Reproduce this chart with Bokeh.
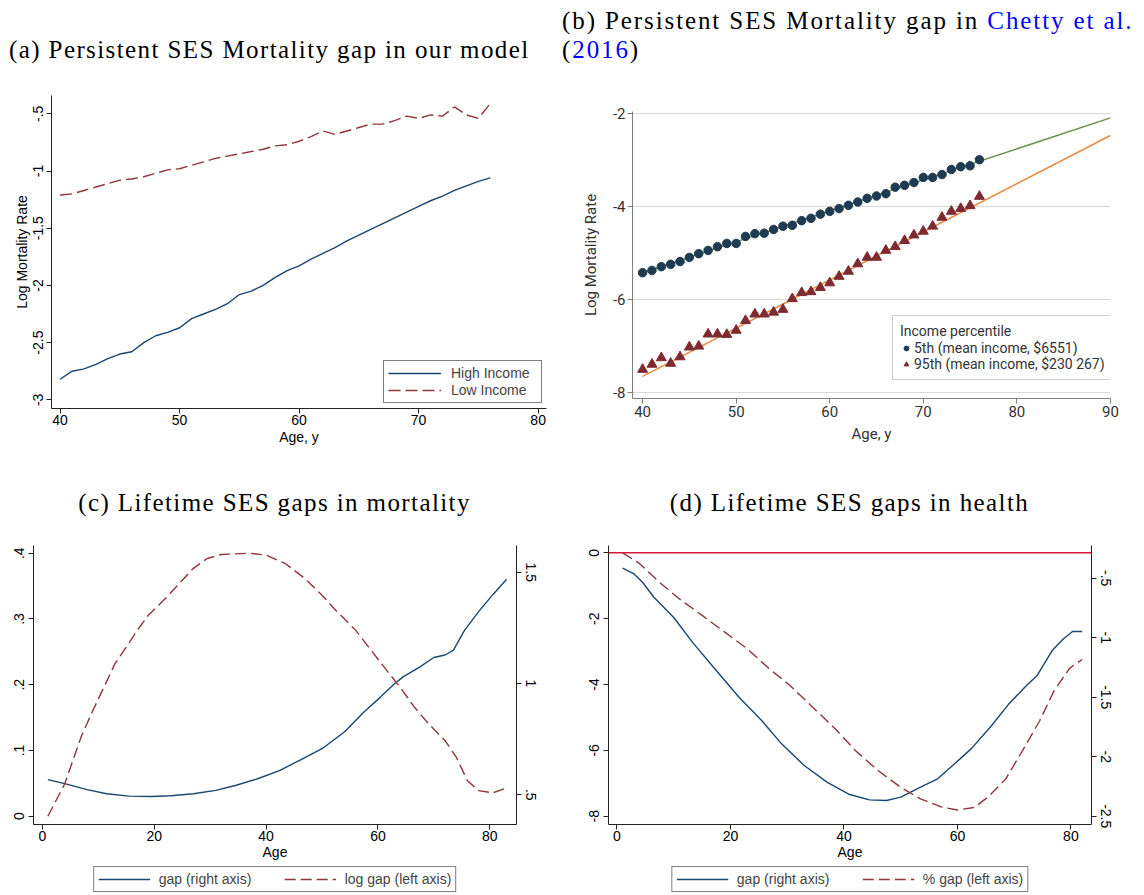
from bokeh.plotting import figure
from bokeh.models import (Range1d, LinearAxis, FixedTicker, Legend, LegendItem,
                          Div, Span)
from bokeh.layouts import column, row
from bokeh.embed import file_html
from bokeh.resources import INLINE

# ---------------- data ----------------
# (a) model: log mortality by age
ages_a = list(range(40, 77))
high_income = [-2.82, -2.75, -2.73, -2.69, -2.64, -2.60, -2.58, -2.50, -2.44, -2.41,
               -2.37, -2.29, -2.25, -2.21, -2.16, -2.08, -2.05, -2.00, -1.93, -1.87,
               -1.83, -1.77, -1.72, -1.67, -1.61, -1.56, -1.51, -1.46, -1.41, -1.36,
               -1.31, -1.26, -1.22, -1.17, -1.13, -1.09, -1.06]
low_income = [-1.21, -1.20, -1.17, -1.14, -1.11, -1.08, -1.07, -1.05, -1.02, -0.99,
              -0.98, -0.95, -0.92, -0.89, -0.87, -0.85, -0.83, -0.81, -0.78, -0.77,
              -0.74, -0.70, -0.65, -0.68, -0.65, -0.62, -0.59, -0.59, -0.56, -0.52,
              -0.54, -0.51, -0.52, -0.44, -0.51, -0.54, -0.41]

# (b) Chetty et al. (2016): log mortality by income percentile
ages_b = list(range(40, 77))
pct5 = [-5.43, -5.38, -5.30, -5.25, -5.19, -5.10, -5.02, -4.95, -4.87, -4.80,
        -4.80, -4.65, -4.59, -4.58, -4.50, -4.43, -4.41, -4.31, -4.26, -4.17,
        -4.11, -4.05, -3.98, -3.91, -3.83, -3.78, -3.73, -3.59, -3.55, -3.49,
        -3.38, -3.38, -3.32, -3.21, -3.15, -3.13, -3.00]
pct95 = [-7.51, -7.40, -7.26, -7.38, -7.24, -7.03, -7.01, -6.75, -6.75, -6.76,
         -6.67, -6.46, -6.32, -6.32, -6.28, -6.22, -5.99, -5.86, -5.84, -5.75,
         -5.65, -5.51, -5.40, -5.24, -5.10, -5.10, -4.95, -4.87, -4.74, -4.62,
         -4.54, -4.43, -4.24, -4.11, -4.05, -3.99, -3.79]
fit_ages = [40, 90]
fit5 = [-5.43, -2.10]
fit95 = [-7.66, -2.48]

# (c) lifetime gaps in mortality
ages_c_log = [1, 4, 7, 9, 11, 13, 15, 17, 19, 22, 24.5, 27, 29.5, 32, 37, 40, 43.5,
              47, 50, 52.5, 56, 59, 62, 64, 66.5, 69, 72, 74, 76, 78, 80.5, 83]
log_gap = [0.0, 0.049, 0.122, 0.16, 0.196, 0.232, 0.257, 0.283, 0.306, 0.331, 0.354,
           0.377, 0.392, 0.398, 0.400, 0.397, 0.384, 0.361, 0.336, 0.313, 0.283, 0.250,
           0.217, 0.196, 0.166, 0.141, 0.115, 0.090, 0.054, 0.039, 0.0355, 0.043]
ages_c_gap = [1, 4, 8, 11.5, 15.5, 19.5, 23, 27, 31, 34.5, 38.5, 42.5, 46, 50, 54,
              57.5, 60.5, 63, 64.5, 67.5, 70, 72, 73.5, 75.5, 78, 80.5, 83]
gap_c = [0.568, 0.55, 0.523, 0.505, 0.494, 0.4925, 0.4955, 0.5045, 0.52, 0.542, 0.572,
         0.61, 0.655, 0.707, 0.782, 0.872, 0.94, 1.0, 1.03, 1.075, 1.117, 1.128, 1.15,
         1.24, 1.323, 1.398, 1.468]

# (d) lifetime gaps in health
ages_d_pct = [1, 4, 7.5, 11, 15, 19, 23, 26.5, 30.5, 34.5, 38.5, 42, 46, 50, 53.5, 57,
              60, 63, 65.5, 68.5, 71.5, 74.5, 77, 79.8, 82]
pct_gap = [0.0, -0.33, -0.9, -1.40, -1.90, -2.41, -2.92, -3.47, -4.03, -4.69, -5.35,
           -6.0, -6.61, -7.12, -7.47, -7.71, -7.81, -7.73, -7.4, -6.87, -6.0, -5.1,
           -4.2, -3.5, -3.24]
ages_d_gap = [1, 3, 4.5, 6.5, 10, 13.5, 17.5, 21.5, 25.5, 29, 33, 37, 41, 44.5, 47.5,
              50, 53.5, 56.5, 59.5, 62.5, 66, 69, 72, 74, 76.7, 78.7, 80.3, 82]
gap_d = [-0.416, -0.464, -0.534, -0.66, -0.83, -1.05, -1.276, -1.50, -1.696, -1.892,
         -2.074, -2.214, -2.318, -2.363, -2.368, -2.34, -2.256, -2.186, -2.06, -1.93,
         -1.74, -1.56, -1.41, -1.32, -1.108, -1.009, -0.948, -0.948]
zero_line = 0

# ---------------- styling helpers ----------------
NAVY = "#1a476f"
MAROON = "#90353b"
SANS = "Liberation Sans"
DASH = "11 5"


def stata_axis(ax, standoff=4, label_standoff=1):
    ax.axis_line_color = "#222222"
    ax.major_tick_line_color = "#222222"
    ax.major_tick_out = 5
    ax.major_tick_in = 0
    ax.minor_tick_line_color = None
    ax.major_label_standoff = standoff
    ax.major_label_text_font = SANS
    ax.major_label_text_font_size = "14px"
    ax.major_label_text_color = "#000000"
    ax.axis_label_text_font = SANS
    ax.axis_label_text_font_size = "14px"
    ax.axis_label_text_font_style = "normal"
    ax.axis_label_text_color = "#000000"
    ax.axis_label_standoff = label_standoff


def ticks(ax, vals, labels):
    ax.ticker = FixedTicker(ticks=vals)
    ax.major_label_overrides = dict(zip(vals, labels))


def base_fig(fw, fh, left, right, top, bottom, xr, yr, **kw):
    p = figure(frame_width=fw, frame_height=fh, min_border_left=left,
               min_border_right=right, min_border_top=top, min_border_bottom=bottom,
               x_range=Range1d(*xr), y_range=Range1d(*yr),
               output_backend="svg", toolbar_location=None, **kw)
    p.outline_line_color = None
    p.xgrid.visible = False
    p.ygrid.visible = False
    p.background_fill_color = "white"
    p.border_fill_color = "white"
    return p


# ---------------- (a) ----------------
pa = base_fig(495, 313, 51, 16, 25, 47, (39.28, 80.70), (-3.076, -0.34))
ra_hi = pa.line(ages_a, high_income, line_color=NAVY, line_width=1.4)
ra_lo = pa.line(ages_a, low_income, line_color=MAROON, line_width=1.4, line_dash="12 5")
stata_axis(pa.xaxis[0], standoff=1, label_standoff=1)
stata_axis(pa.yaxis[0], standoff=3, label_standoff=1)
pa.xaxis[0].axis_label = "Age, y"
pa.yaxis[0].axis_label = "Log Mortality Rate"
pa.yaxis[0].major_label_orientation = "vertical"
ticks(pa.xaxis[0], [40, 50, 60, 70, 80], ["40", "50", "60", "70", "80"])
ticks(pa.yaxis[0], [-3, -2.5, -2, -1.5, -1, -0.5], ["-3", "-2.5", "-2", "-1.5", "-1", "-.5"])
leg_a = Legend(items=[LegendItem(label="High Income", renderers=[ra_hi]),
                      LegendItem(label="Low Income", renderers=[ra_lo])],
               location=(332, 5), orientation="vertical")
leg_a.border_line_color = "#000000"
leg_a.border_line_width = 1
leg_a.background_fill_alpha = 1
leg_a.label_text_font = SANS
leg_a.label_text_font_size = "14px"
leg_a.glyph_width = 53
leg_a.glyph_height = 16
leg_a.label_height = 16
leg_a.label_width = 86
leg_a.label_standoff = 10
leg_a.spacing = 1
leg_a.padding = 4
leg_a.margin = 0
pa.add_layout(leg_a)

# ---------------- (b) ----------------
CH_FONT = "Roboto"
CH_TEXT = "#333333"
pb = base_fig(478, 287, 70, 32, 25, 47, (38.92, 90.01), (-8.135, -1.963))
pb.line(fit_ages, fit5, line_color="#6e8f48", line_width=1.5)
pb.line(fit_ages, fit95, line_color="#ec8a3e", line_width=1.5)
rb5 = pb.scatter(ages_b, pct5, marker="circle", size=8.5, fill_color="#1f3b52",
                 line_color="#1f3b52")
rb95 = pb.scatter(ages_b, pct95, marker="triangle", size=10, fill_color="#7e2a30",
                  line_color="#7e2a30")
for ax in (pb.xaxis[0], pb.yaxis[0]):
    ax.axis_line_color = "#808080"
    ax.major_tick_line_color = "#808080"
    ax.major_tick_out = 5
    ax.major_tick_in = 0
    ax.minor_tick_line_color = None
    ax.major_label_text_font = CH_FONT
    ax.major_label_text_font_size = "15px"
    ax.major_label_text_color = CH_TEXT
    ax.axis_label_text_font = CH_FONT
    ax.axis_label_text_font_size = "15px"
    ax.axis_label_text_font_style = "normal"
    ax.axis_label_text_color = CH_TEXT
pb.xaxis[0].axis_label = "Age, y"
pb.yaxis[0].axis_label = "Log Mortality Rate"
pb.xaxis[0].major_label_standoff = 2
pb.xaxis[0].axis_label_standoff = 5
pb.yaxis[0].major_label_standoff = 2
pb.yaxis[0].axis_label_standoff = 10
ticks(pb.xaxis[0], [40, 50, 60, 70, 80, 90], ["40", "50", "60", "70", "80", "90"])
ticks(pb.yaxis[0], [-8, -6, -4, -2], ["-8", "-6", "-4", "-2"])
pb.ygrid.visible = True
pb.ygrid[0].ticker = FixedTicker(ticks=[-8, -6, -4, -2])
pb.ygrid[0].grid_line_color = "#d9d9d9"
leg_b = Legend(items=[LegendItem(label="5th (mean income, $6551)", renderers=[rb5]),
                      LegendItem(label="95th (mean income, $230 267)", renderers=[rb95])],
               location=(260, 18), orientation="vertical", title="Income percentile")
leg_b.border_line_color = "#9a9a9a"
leg_b.background_fill_alpha = 1
leg_b.title_text_font = CH_FONT
leg_b.title_text_font_style = "normal"
leg_b.title_text_font_size = "14px"
leg_b.title_text_color = CH_TEXT
leg_b.title_standoff = 1
leg_b.label_text_font = CH_FONT
leg_b.label_text_font_size = "14px"
leg_b.label_text_color = CH_TEXT
leg_b.glyph_width = 12
leg_b.glyph_height = 16
leg_b.label_height = 15
leg_b.label_standoff = 2
leg_b.spacing = 0
leg_b.padding = 7
leg_b.margin = 0
pb.add_layout(leg_b)

# ---------------- (c) ----------------
pc = base_fig(483, 279, 33, 59, 15, 42, (-1.573, 84.77), (-0.0126, 0.4117))
pc.extra_y_ranges = {"right": Range1d(0.3666, 1.620)}
pc.line(ages_c_gap, gap_c, line_color=NAVY, line_width=1.4, y_range_name="right")
pc.line(ages_c_log, log_gap, line_color=MAROON, line_width=1.4, line_dash=DASH)
right_c = LinearAxis(y_range_name="right")
pc.add_layout(right_c, "right")
stata_axis(pc.xaxis[0], standoff=1, label_standoff=0)
stata_axis(pc.yaxis[0], standoff=4)
stata_axis(right_c, standoff=4)
pc.yaxis[0].major_label_orientation = "vertical"
right_c.major_label_orientation = "vertical"
pc.xaxis[0].axis_label = "Age"
ticks(pc.xaxis[0], [0, 20, 40, 60, 80], ["0", "20", "40", "60", "80"])
ticks(pc.yaxis[0], [0, 0.1, 0.2, 0.3, 0.4], ["0", ".1", ".2", ".3", ".4"])
ticks(right_c, [0.5, 1, 1.5], [".5", "1", "1.5"])

# ---------------- (d) ----------------
pd_ = base_fig(483, 279, 33, 51, 15, 42, (-1.498, 83.63), (-8.250, 0.222))
pd_.extra_y_ranges = {"right": Range1d(-2.5697, -0.2252)}
pd_.add_layout(Span(location=zero_line, dimension="width", line_color="#d6163d",
                    line_width=1.5))
pd_.line(ages_d_gap, gap_d, line_color=NAVY, line_width=1.4, y_range_name="right")
pd_.line(ages_d_pct, pct_gap, line_color=MAROON, line_width=1.4, line_dash=DASH)
right_d = LinearAxis(y_range_name="right")
pd_.add_layout(right_d, "right")
stata_axis(pd_.xaxis[0], standoff=1, label_standoff=0)
stata_axis(pd_.yaxis[0], standoff=4)
stata_axis(right_d, standoff=4)
pd_.yaxis[0].major_label_orientation = "vertical"
right_d.major_label_orientation = "vertical"
pd_.xaxis[0].axis_label = "Age"
ticks(pd_.xaxis[0], [0, 20, 40, 60, 80], ["0", "20", "40", "60", "80"])
ticks(pd_.yaxis[0], [-8, -6, -4, -2, 0], ["-8", "-6", "-4", "-2", "0"])
ticks(right_d, [-2.5, -2, -1.5, -1, -0.5], ["-2.5", "-2", "-1.5", "-1", "-.5"])


def key_strip(left, right, solid_xy, dashed_xy, labels):
    # thin strip under a panel holding its horizontal key; the series are
    # repeated here only so the key has renderers, and lie outside the strip's ranges
    k = base_fig(483, 26, left, right, 0, 0, (-20, -10), (-20, -10),
                 x_axis_location=None, y_axis_location=None)
    solid = k.line(*solid_xy, line_color=NAVY, line_width=1.4)
    dashed = k.line(*dashed_xy, line_color=MAROON, line_width=1.4, line_dash=DASH)
    leg = Legend(items=[LegendItem(label=labels[0], renderers=[solid]),
                        LegendItem(label=labels[1], renderers=[dashed])],
                 orientation="horizontal", location="center")
    leg.border_line_color = "#000000"
    leg.background_fill_alpha = 1
    leg.label_text_font = SANS
    leg.label_text_font_size = "14px"
    leg.glyph_width = 52
    leg.glyph_height = 16
    leg.label_height = 16
    leg.label_width = 100
    leg.label_standoff = 9
    leg.spacing = 25
    leg.padding = 4
    leg.margin = 0
    k.add_layout(leg)
    return k


key_c = key_strip(33, 59, (ages_c_gap, gap_c), (ages_c_log, log_gap),
                  ["gap (right axis)", "log gap (left axis)"])
key_d = key_strip(33, 51, (ages_d_gap, gap_d), (ages_d_pct, pct_gap),
                  ["gap (right axis)", "% gap (left axis)"])

# ---------------- panel titles ----------------
TITLE = ("font-family:'Liberation Serif'; font-size:25px;"
         " color:#000000; white-space:nowrap;")
BLUE = "#0000ff"
title_a = Div(width=562, height=70, margin=(0, 0, 0, 0), text=(
    f'<div style="{TITLE} letter-spacing:1.4px; padding-left:9px; padding-top:35px;'
    ' line-height:30px;">(a) Persistent SES Mortality gap in our model</div>'))
title_b = Div(width=580, height=86, margin=(0, 0, 0, 0), text=(
    f'<div style="{TITLE} letter-spacing:1.9px; padding-top:7px; line-height:28.5px;">'
    f'(b) Persistent SES Mortality gap in <span style="color:{BLUE}">Chetty et al.</span>'
    f'<br>(<span style="color:{BLUE}">2016</span>)</div>'))
title_c = Div(width=575, height=75, margin=(0, 0, 0, 0), text=(
    f'<div style="{TITLE} letter-spacing:1.4px; width:549px; text-align:center;'
    ' padding-top:33px; line-height:30px;">(c) Lifetime SES gaps in mortality</div>'))
title_d = Div(width=567, height=75, margin=(0, 0, 0, 0), text=(
    f'<div style="{TITLE} letter-spacing:1.4px; width:549px; text-align:center;'
    ' padding-top:33px; line-height:30px;">(d) Lifetime SES gaps in health</div>'))

layout = column(
    row(column(title_a, pa, spacing=0), column(title_b, pb, spacing=0), spacing=0),
    row(column(title_c, pc, key_c, spacing=0), column(title_d, pd_, key_d, spacing=0),
        spacing=0),
    spacing=0)

with open("out.html", "w") as f:
    f.write(file_html(layout, INLINE))
